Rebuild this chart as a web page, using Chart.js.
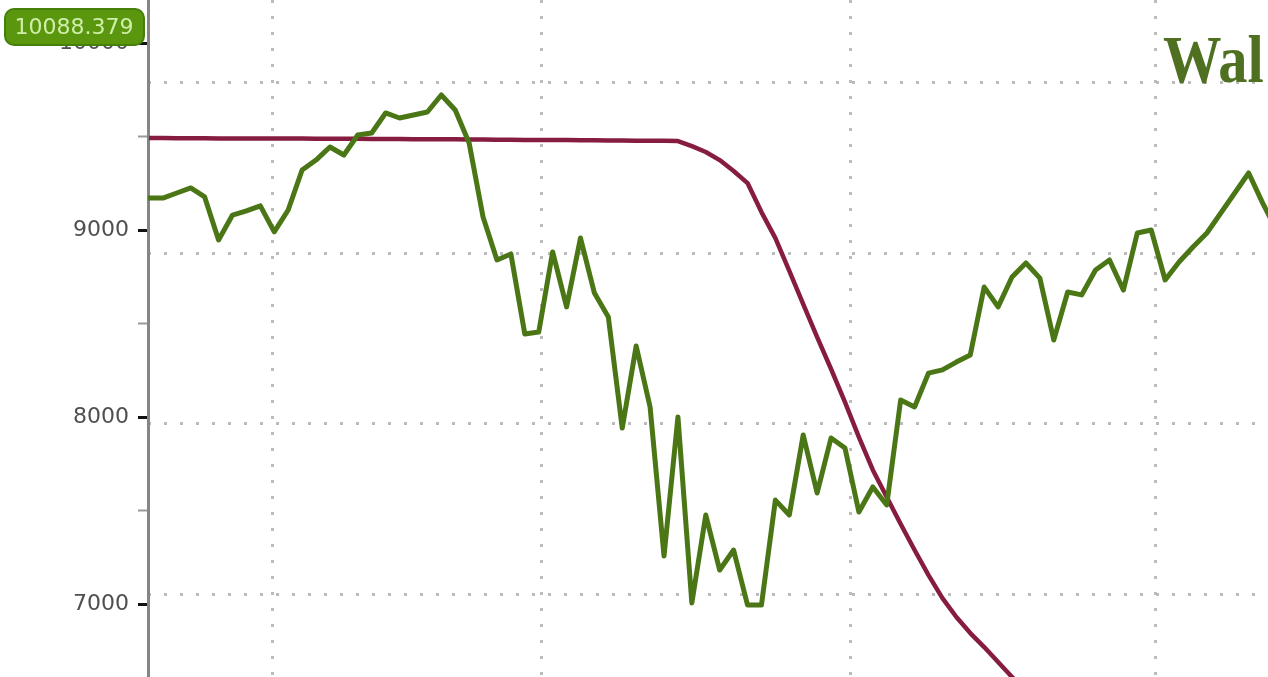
<!DOCTYPE html>
<html>
<head>
<meta charset="utf-8">
<script src="https://cdn.jsdelivr.net/npm/chart.js@4/dist/chart.umd.min.js"></script>
<style>
  body { margin: 0; background: #fff; }
  #wrap { width: 1268px; height: 677px; }
</style>
</head>
<body>
<div id="wrap"><canvas id="chart" width="1268" height="677"></canvas></div>
<script>
// Daily closes (one per trading day)
const greenValues = [
  9171, 9171, 9198, 9225, 9177, 8947, 9080, 9102, 9129, 8990,
  9107, 9321, 9374, 9444, 9401, 9508, 9519, 9626, 9599, 9615,
  9631, 9722, 9642, 9465, 9070, 8840, 8872, 8444, 8455, 8883,
  8589, 8957, 8663, 8535, 7941, 8380, 8054, 7257, 8000, 7006,
  7476, 7182, 7289, 6995, 6995, 7556, 7476, 7904, 7594, 7888,
  7834, 7492, 7626, 7530, 8091, 8054, 8235, 8252, 8294, 8332,
  8695, 8589, 8749, 8824, 8743, 8412, 8669, 8653, 8786, 8840,
  8679, 8984, 9000, 8733, 8829, 8909, 8984, 9091, 9198, 9305,
  9145, 9000
];

// Red comparison line, same days
const redValues = [
  9492, 9492, 9491, 9491, 9491, 9490, 9490, 9490, 9489, 9489,
  9489, 9489, 9488, 9488, 9488, 9488, 9487, 9487, 9487, 9486,
  9486, 9485, 9485, 9484, 9484, 9483, 9483, 9482, 9482, 9481,
  9481, 9480, 9480, 9479, 9479, 9478, 9478, 9477, 9476, 9449,
  9417, 9374, 9316, 9251, 9096, 8957, 8781, 8604, 8428, 8257,
  8080, 7893, 7717, 7572, 7428, 7289, 7155, 7032, 6931, 6845,
  6770, 6690, 6610, 6530, 6450
];

const yTickValues = [7000, 7500, 8000, 8500, 9000, 9500, 10000];
const monthStartDays = [8.9, 28.2, 50.4, 72.3];
const gridLevels = [1, 2, 3, 4];
const lastValueLabel = '10088.379';
const titleText = 'Wal';

const toPoints = vals => vals.map((v, i) => ({ x: i, y: v }));

// Flag with the last value + big title in the corner
const overlay = {
  id: 'overlay',
  afterDraw(chart) {
    const ctx = chart.ctx;
    ctx.save();
    // flag
    ctx.beginPath();
    ctx.roundRect(5, 9, 139, 36, 9);
    ctx.fillStyle = '#5a970f';
    ctx.fill();
    ctx.lineWidth = 2;
    ctx.strokeStyle = '#45800a';
    ctx.stroke();
    ctx.fillStyle = '#cfeea8';
    ctx.font = '22px "DejaVu Sans"';
    ctx.textAlign = 'center';
    ctx.textBaseline = 'middle';
    ctx.fillText(lastValueLabel, 74, 28);
    // title
    ctx.translate(1163, 82);
    ctx.scale(0.86, 1);
    ctx.font = 'bold 68px "Liberation Serif"';
    ctx.textAlign = 'left';
    ctx.textBaseline = 'alphabetic';
    ctx.fillStyle = '#4f7020';
    ctx.fillText(titleText, 0, 0);
    ctx.restore();
  }
};

const dotted = [3, 13];

new Chart(document.getElementById('chart'), {
  type: 'line',
  data: {
    datasets: [
      {
        data: toPoints(greenValues),
        borderColor: '#4b7616',
        borderWidth: 5,
        pointRadius: 0,
        tension: 0,
        borderJoinStyle: 'round',
        borderCapStyle: 'round',
        clip: 0
      },
      {
        data: toPoints(redValues),
        borderColor: '#861c40',
        borderWidth: 4.5,
        pointRadius: 0,
        tension: 0,
        borderJoinStyle: 'round',
        clip: 0
      }
    ]
  },
  options: {
    responsive: false,
    animation: false,
    layout: { padding: 0 },
    plugins: { legend: { display: false }, tooltip: { enabled: false } },
    scales: {
      x: {
        type: 'linear',
        min: -0.07,
        max: 80.39,
        afterBuildTicks: s => { s.ticks = monthStartDays.map(v => ({ value: v })); },
        afterFit: s => { s.height = 0; s.paddingLeft = 0; s.paddingRight = 0; },
        ticks: { display: false },
        grid: { color: '#bcbcbc', lineWidth: 3, drawTicks: false },
        border: { display: false, dash: dotted }
      },
      y: {
        min: 6610,
        max: 10230,
        afterBuildTicks: s => { s.ticks = yTickValues.map(v => ({ value: v })); },
        afterFit: s => { s.width = 148; s.paddingTop = 0; s.paddingBottom = 0; },
        ticks: {
          padding: 9,
          color: '#4f4f4f',
          font: { family: '"DejaVu Sans"', size: 22 },
          callback: v => (v % 1000 === 0 ? String(v) : '')
        },
        grid: {
          drawOnChartArea: false,
          tickLength: 10,
          tickColor: c => (c.tick && c.tick.value % 1000 === 0 ? '#111' : '#999'),
          tickWidth: c => (c.tick && c.tick.value % 1000 === 0 ? 3 : 2)
        },
        border: { display: true, color: '#858585', width: 3 }
      },
      y2: {
        position: 'right',
        min: 0.513,
        max: 4.487,
        afterBuildTicks: s => { s.ticks = gridLevels.map(v => ({ value: v })); },
        afterFit: s => { s.width = 0; s.paddingTop = 0; s.paddingBottom = 0; },
        ticks: { display: false },
        grid: { color: '#bcbcbc', lineWidth: 3, drawTicks: false },
        border: { display: false, dash: dotted }
      }
    }
  },
  plugins: [overlay]
});
</script>
</body>
</html>
